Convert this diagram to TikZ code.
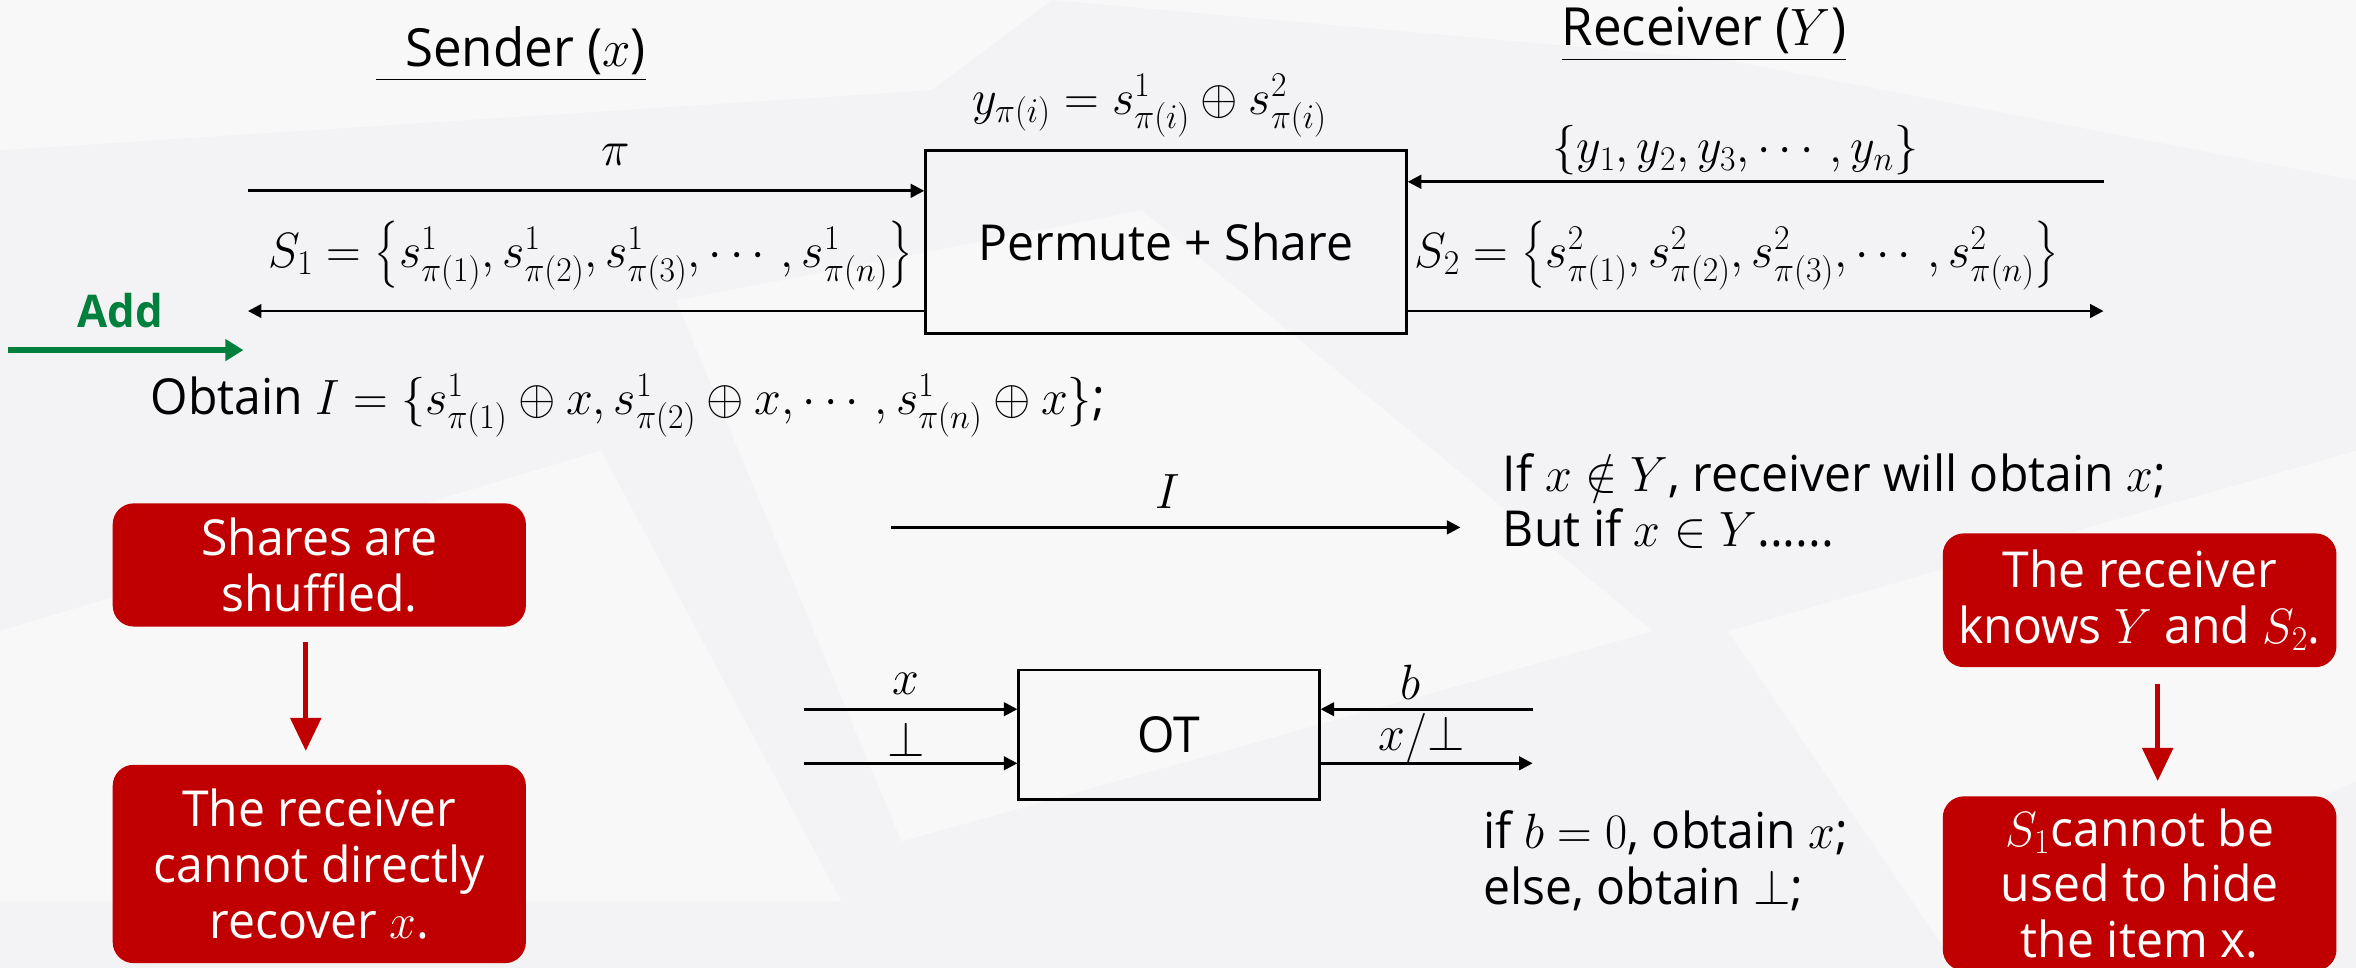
\RequirePackage{fix-cm}
\documentclass[tikz,border=0pt]{standalone}
\usepackage{amsmath}
\usepackage{fontspec}
\setmainfont{Open Sans}
\usetikzlibrary{arrows.meta,calc}
\definecolor{redbox}{RGB}{192,0,0}
\definecolor{addgreen}{RGB}{0,128,60}
\definecolor{bgcol}{RGB}{243,243,245}
\newcommand{\sq}[1]{\scalebox{0.97}[1]{#1}}
\newcommand{\bodyfont}{\fontsize{33}{38}\selectfont}
\tikzset{
  arr/.style={line width=1.8pt,-{Triangle[length=9pt,width=9pt]}},
  lbl/.style={inner sep=0pt,font=\bodyfont},
  blk/.style={draw,line width=1.8pt,inner sep=0pt,font=\bodyfont},
  note/.style={fill=redbox,rounded corners=14pt,text=white,align=center,font=\fontsize{33}{37}\selectfont,inner sep=0pt},
  redarr/.style={draw=redbox,line width=3.5pt,-{Triangle[length=22pt,width=20pt]}},
  greenarr/.style={draw=addgreen,line width=4pt,-{Triangle[length=12pt,width=14pt]}},
  facet/.style={fill=white,opacity=0.45,draw=none}
}
\begin{document}
\begin{tikzpicture}[x=1pt,y=-1pt]
\useasboundingbox (0,0) rectangle (1568,644);
\fill[bgcol] (0,0) rectangle (1568,644);
% faint background facets
\fill[facet] (0,0) -- (700,0) -- (620,60) -- (0,100) -- cycle;
\fill[facet] (700,0) -- (1568,0) -- (1568,120) -- (1150,40) -- cycle;
\fill[facet] (450,200) -- (760,140) -- (1100,420) -- (600,560) -- cycle;
\fill[facet] (0,420) -- (400,300) -- (560,600) -- (0,600) -- cycle;
\fill[facet] (1150,420) -- (1568,300) -- (1568,520) -- (1300,640) -- cycle;

% headers
\node[lbl] (sender) at (340,36) {\fontsize{35}{40}\selectfont\sq{\underline{\hspace{20pt}Sender ($x$)}}};
\node[lbl] (receiver) at (1134,23) {\fontsize{35}{40}\selectfont\sq{\underline{Receiver ($Y$)}}};
\node[lbl] (eq) at (765,70) {\sq{$y_{\pi(i)} = s^1_{\pi(i)} \oplus s^2_{\pi(i)}$}};

% permute + share
\node[blk,minimum width=320pt,minimum height=122pt] (ps) at (776,161) {\sq{Permute + Share}};
\coordinate (piL) at (165,127);
\draw[arr] (piL) -- (piL -| ps.west);
\node[lbl] (pilbl) at (410,103) {\sq{$\pi$}};
\coordinate (s1L) at (165,207);
\draw[arr] (s1L -| ps.west) -- (s1L);
\node[lbl] (s1lbl) at (393,170) {\sq{$S_1 = \left\{s^1_{\pi(1)}, s^1_{\pi(2)}, s^1_{\pi(3)}, \cdots, s^1_{\pi(n)}\right\}$}};
\coordinate (yR) at (1400,121);
\draw[arr] (yR) -- (yR -| ps.east);
\node[lbl] (ylbl) at (1155,100) {\sq{$\{y_1, y_2, y_3, \cdots, y_n\}$}};
\coordinate (s2R) at (1400,207);
\draw[arr] (s2R -| ps.east) -- (s2R);
\node[lbl] (s2lbl) at (1156,170) {\sq{$S_2 = \left\{s^2_{\pi(1)}, s^2_{\pi(2)}, s^2_{\pi(3)}, \cdots, s^2_{\pi(n)}\right\}$}};

% add
\node[lbl,text=addgreen,font=\fontsize{30}{34}\selectfont\bfseries] (add) at (80,207) {\sq{Add}};
\coordinate (addA) at (5,233);
\coordinate (addB) at (162,233);
\draw[greenarr] (addA) -- (addB);

% obtain
\node[lbl,anchor=west] (obtain) at (100,270) {\sq{Obtain $I = \{s^1_{\pi(1)} \oplus x, s^1_{\pi(2)} \oplus x, \cdots, s^1_{\pi(n)} \oplus x\}$;}};

% I arrow
\coordinate (iA) at (593,351);
\coordinate (iB) at (972,351);
\draw[arr] (iA) -- (iB);
\node[lbl] (ilbl) at (777,327) {\sq{$I$}};

\node[lbl,anchor=base west] (ifx1) at (1000,327) {\sq{If $x \notin Y$, receiver will obtain $x$;}};
\node[lbl,anchor=base west] (ifx2) at (1000,364) {\sq{But if $x \in Y$......}};

% OT
\node[blk,minimum width=200pt,minimum height=86pt] (ot) at (778,489) {\sq{OT}};
\coordinate (xL) at (535,472);
\draw[arr] (xL) -- (xL -| ot.west);
\node[lbl] (xlbl) at (603,455) {\sq{$x$}};
\coordinate (botL) at (535,508);
\draw[arr] (botL) -- (botL -| ot.west);
\node[lbl] (botlbl) at (603,492) {\sq{$\perp$}};
\coordinate (bR) at (1020,472);
\draw[arr] (bR) -- (bR -| ot.east);
\node[lbl] (blbl) at (939,454) {\sq{$b$}};
\coordinate (xbR) at (1020,508);
\draw[arr] (xbR -| ot.east) -- (xbR);
\node[lbl] (xblbl) at (946,491) {\sq{$x/{\perp}$}};

\node[lbl,anchor=base west] (ifb1) at (987,565) {\sq{if $b = 0$, obtain $x$;}};
\node[lbl,anchor=base west] (ifb2) at (987,602) {\sq{else, obtain $\perp$;}};

% red notes
\node[note,minimum width=275pt,minimum height=82pt] (n1) at (212.5,376) {\sq{Shares are}\\\sq{shuffled.}};
\node[note,minimum width=275pt,minimum height=132pt] (n2) at (212.5,575) {\sq{The receiver}\\\sq{cannot directly}\\\sq{recover $x$.}};
\draw[redarr] ($(n1.south)+(-9,10)$) -- ($(n2.north)+(-9,-9)$);

\node[note,minimum width=262pt,minimum height=89pt] (n3) at (1424,399.5) {\sq{The receiver}\\\sq{knows $Y$ and $S_2$.}};
\node[note,minimum width=262pt,minimum height=116pt] (n4) at (1424,588) {\sq{$S_1$cannot be}\\\sq{used to hide}\\\sq{the item x.}};
\draw[redarr] ($(n3.south)+(12,11)$) -- ($(n4.north)+(12,-10)$);
\end{tikzpicture}
\end{document}
